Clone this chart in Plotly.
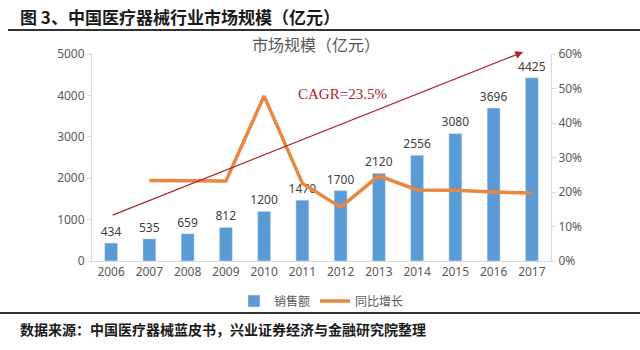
import plotly.graph_objects as go

years = ["2006", "2007", "2008", "2009", "2010", "2011", "2012", "2013", "2014", "2015", "2016", "2017"]
sales = [434, 535, 659, 812, 1200, 1470, 1700, 2120, 2556, 3080, 3696, 4425]
growth_years = ["2007", "2008", "2009", "2010", "2011", "2012", "2013", "2014", "2015", "2016", "2017"]
growth = [0.233, 0.232, 0.232, 0.478, 0.225, 0.156, 0.247, 0.206, 0.205, 0.200, 0.197]
left_ticks = [0, 1000, 2000, 3000, 4000, 5000]
right_ticks = [0, 0.1, 0.2, 0.3, 0.4, 0.5, 0.6]

CJK = "Noto Sans CJK SC"
LAT = "Noto Sans"
GRAY = "#595959"

W, H = 640, 350
L, R, T, B = 92, 89, 54, 89
pw, ph = W - L - R, H - T - B

def px(xp):
    return (xp - L) / pw

def py(yp):
    return (H - B - yp) / ph

fig = go.Figure()
fig.add_trace(go.Bar(
    x=years, y=sales, name="销售额", width=0.34,
    marker=dict(color="#5B9BD5"),
    text=[str(v) for v in sales], textposition="outside", constraintext="none",
    textfont=dict(family=LAT, size=12, color="#404040"),
    cliponaxis=False,
))
fig.add_trace(go.Scatter(
    x=growth_years, y=growth, name="同比增长", yaxis="y2", mode="lines",
    line=dict(color="#E8873F", width=3.5),
))

# CAGR arrow
fig.add_annotation(
    x=10.77, y=5048, ax=0, ay=1094, xref="x", yref="y", axref="x", ayref="y",
    showarrow=True, arrowhead=2, arrowsize=1.3, arrowwidth=1.2, arrowcolor="#B0202A", text="",
)
fig.add_annotation(
    x=px(342), y=py(94), xref="paper", yref="paper", xanchor="center", yanchor="middle",
    text="CAGR=23.5%", showarrow=False,
    font=dict(family="Liberation Serif", size=15, color="#B0202A"),
)

fig.add_annotation(x=px(18), y=py(16), xref="paper", yref="paper", xanchor="left", yanchor="middle",
                   text="<b>图 3、中国医疗器械行业市场规模（亿元）</b>", showarrow=False,
                   font=dict(family=CJK, size=17, color="#1a1a1a"))
fig.add_annotation(x=px(316), y=py(44), xref="paper", yref="paper", xanchor="center", yanchor="middle",
                   text="市场规模（亿元）", showarrow=False,
                   font=dict(family=CJK, size=16, color=GRAY))
fig.add_annotation(x=px(18), y=py(329), xref="paper", yref="paper", xanchor="left", yanchor="middle",
                   text="<b>数据来源：中国医疗器械蓝皮书，兴业证券经济与金融研究院整理</b>", showarrow=False,
                   font=dict(family=CJK, size=14, color="#1a1a1a"))

fig.add_shape(type="line", xref="paper", yref="paper", x0=px(8), x1=px(640), y0=py(30), y1=py(30),
              line=dict(color="#333333", width=2))
fig.add_shape(type="line", xref="paper", yref="paper", x0=px(0), x1=px(640), y0=py(313), y1=py(313),
              line=dict(color="#333333", width=2))

fig.update_layout(
    width=W, height=H, margin=dict(l=L, r=R, t=T, b=B, autoexpand=False),
    paper_bgcolor="white", plot_bgcolor="white",
    showlegend=True,
    legend=dict(orientation="h", x=0.5, xanchor="center", y=py(301), yanchor="middle",
                font=dict(family=CJK, size=12, color=GRAY), itemwidth=30, traceorder="normal",
                tracegroupgap=0, bgcolor="rgba(0,0,0,0)"),
    xaxis=dict(type="category", showline=True, linecolor="#d9d9d9", ticks="",
               tickfont=dict(family=LAT, size=12, color=GRAY), showgrid=False),
    yaxis=dict(range=[0, 5000], tickvals=left_ticks, showgrid=False, zeroline=False,
               showline=True, linecolor="#d9d9d9", ticks="outside", ticklen=4, tickcolor="#d9d9d9",
               tickfont=dict(family=LAT, size=12, color=GRAY)),
    yaxis2=dict(range=[0, 0.6], tickvals=right_ticks, tickformat=".0%", overlaying="y", side="right",
                showgrid=False, zeroline=False, showline=True, linecolor="#d9d9d9",
                ticks="outside", ticklen=4, tickcolor="#d9d9d9",
                tickfont=dict(family=LAT, size=12, color=GRAY)),
)

fig.write_html("out.html")
